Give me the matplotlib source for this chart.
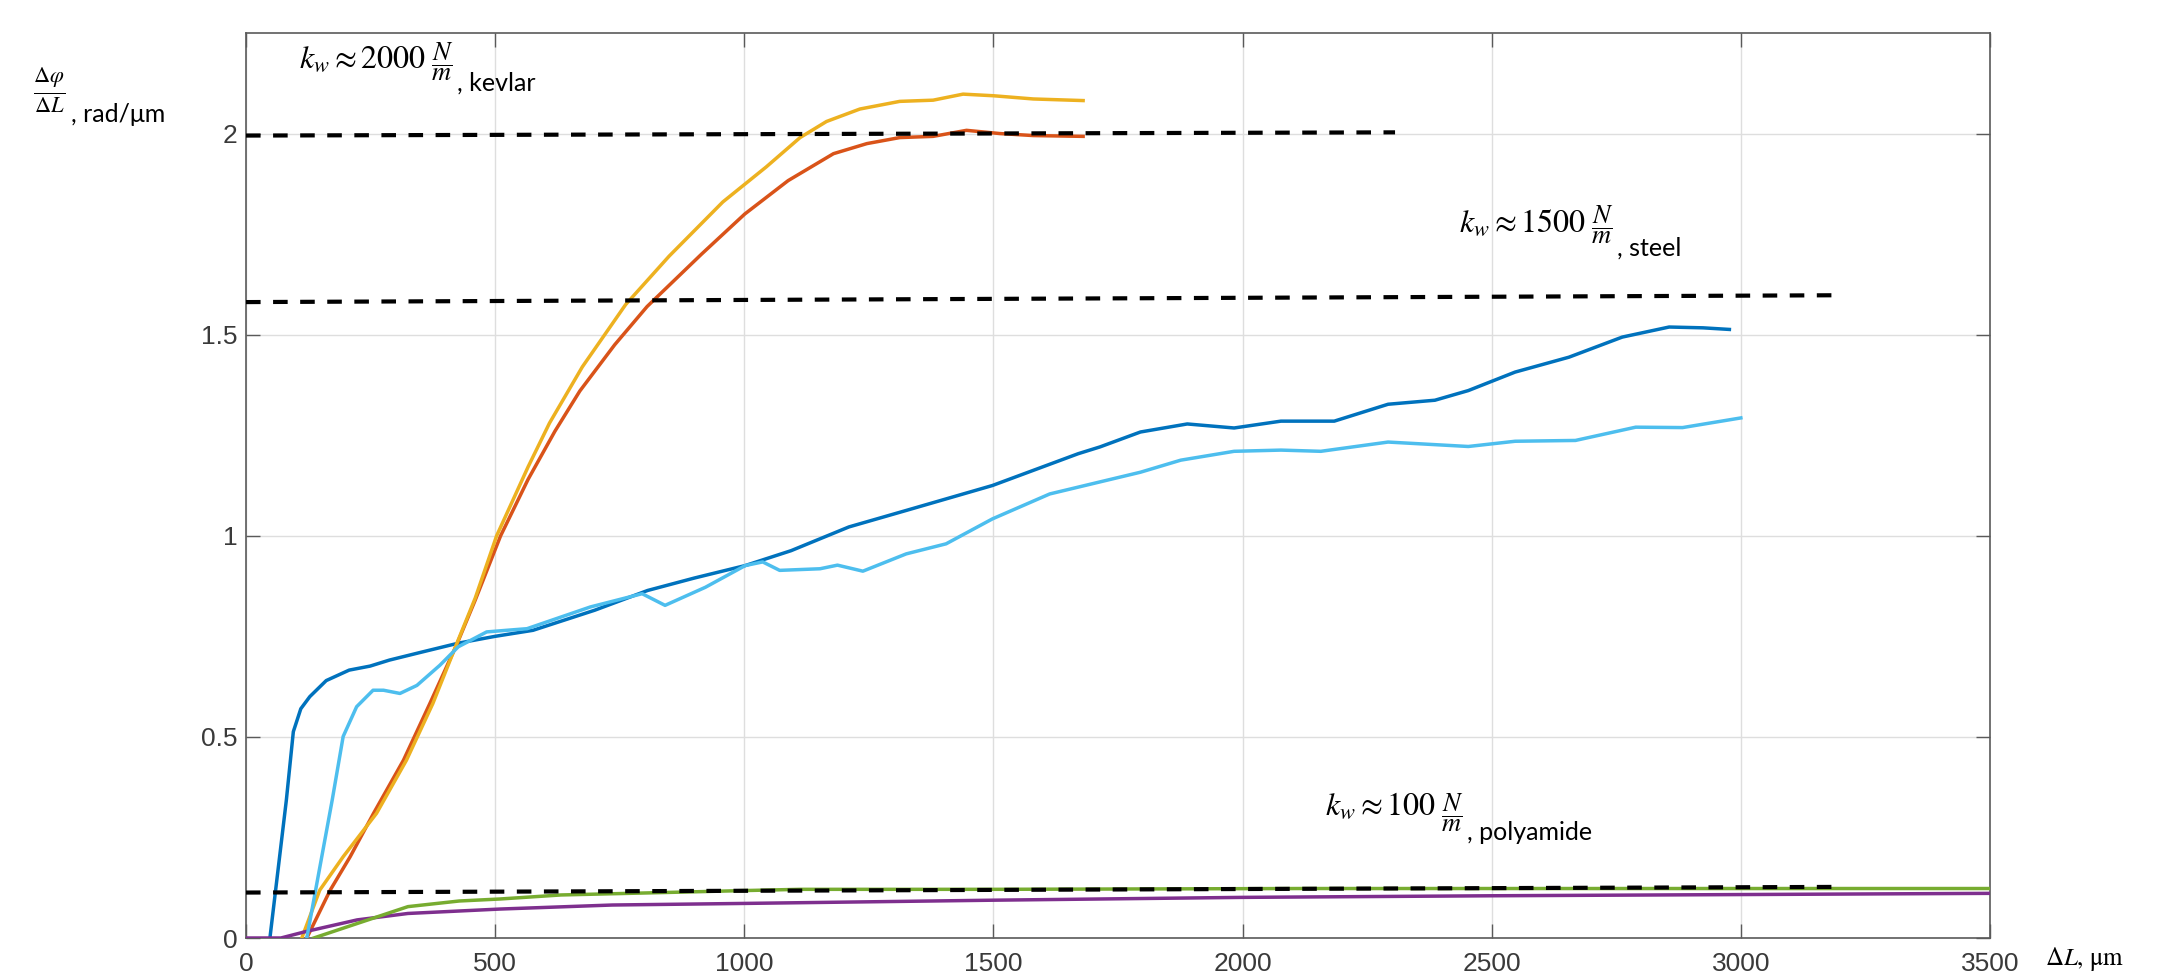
import matplotlib
matplotlib.use('Agg')
import matplotlib.pyplot as plt

# ---------------- data ----------------
x_ticks = [0, 500, 1000, 1500, 2000, 2500, 3000, 3500]
x_tick_labels = ['0', '500', '1000', '1500', '2000', '2500', '3000', '3500']
y_ticks = [0, 0.5, 1.0, 1.5, 2.0]
y_tick_labels = ['0', '0.5', '1', '1.5', '2']

# steel, sample 1 (dark blue)
steel1_x = [48, 81, 95, 110, 128, 161, 207, 249, 288, 350, 426, 500, 576, 700, 806, 900,
            1002, 1094, 1210, 1325, 1498, 1670, 1714, 1795, 1889, 1983, 2077, 2184, 2292,
            2386, 2453, 2547, 2655, 2762, 2856, 2924, 2977]
steel1_y = [0, 0.343, 0.513, 0.57, 0.600, 0.640, 0.666, 0.676, 0.691, 0.71, 0.733, 0.75,
            0.765, 0.815, 0.864, 0.895, 0.926, 0.963, 1.022, 1.063, 1.125, 1.204, 1.221,
            1.258, 1.278, 1.268, 1.285, 1.285, 1.327, 1.337, 1.361, 1.407, 1.444, 1.494,
            1.519, 1.517, 1.513]

# steel, sample 2 (light blue)
steel2_x = [122, 173, 195, 222, 255, 276, 309, 343, 389, 426, 483, 523, 564, 691, 795, 841,
            922, 1002, 1037, 1071, 1152, 1187, 1238, 1325, 1405, 1498, 1613, 1714, 1795,
            1876, 1983, 2077, 2157, 2292, 2453, 2547, 2668, 2789, 2883, 3000]
steel2_y = [0, 0.343, 0.501, 0.575, 0.616, 0.616, 0.608, 0.628, 0.678, 0.724, 0.761, 0.765,
            0.769, 0.823, 0.856, 0.827, 0.872, 0.926, 0.935, 0.914, 0.918, 0.927, 0.912,
            0.955, 0.980, 1.042, 1.104, 1.134, 1.158, 1.188, 1.210, 1.213, 1.210, 1.233,
            1.222, 1.235, 1.237, 1.270, 1.269, 1.293]

# kevlar, sample 1 (orange)
kevlar1_x = [122, 169, 209, 256, 316, 369, 423, 460, 511, 566, 620, 670, 740, 805, 914,
             1001, 1088, 1179, 1246, 1312, 1379, 1446, 1513, 1580, 1680]
kevlar1_y = [0, 0.119, 0.202, 0.31, 0.442, 0.583, 0.73, 0.84, 1.0, 1.14, 1.26, 1.36,
             1.475, 1.57, 1.70, 1.80, 1.883, 1.950, 1.975, 1.990, 1.993, 2.008, 2.0,
             1.995, 1.993]

# kevlar, sample 2 (yellow)
kevlar2_x = [112, 148, 195, 262, 322, 375, 423, 460, 503, 566, 609, 675, 762, 849, 957,
             1044, 1112, 1165, 1232, 1312, 1379, 1439, 1500, 1580, 1680]
kevlar2_y = [0, 0.119, 0.202, 0.31, 0.442, 0.583, 0.732, 0.845, 1.0, 1.171, 1.28, 1.42,
             1.575, 1.695, 1.83, 1.917, 1.99, 2.03, 2.061, 2.080, 2.083, 2.098, 2.094,
             2.086, 2.082]

# polyamide, sample 1 (purple)
poly1_x = [0, 70, 120, 223, 325, 510, 735, 1003, 1500, 2000, 2500, 3000, 3500]
poly1_y = [0, 0, 0.016, 0.045, 0.061, 0.072, 0.082, 0.086, 0.094, 0.101, 0.105, 0.108, 0.111]

# polyamide, sample 2 (green)
poly2_x = [136, 223, 325, 428, 510, 632, 837, 1003, 1112, 1500, 2115, 2463, 3500]
poly2_y = [0, 0.036, 0.078, 0.092, 0.097, 0.107, 0.113, 0.118, 0.121, 0.121, 0.123, 0.123, 0.123]

# theoretical levels (dashed)
kevlar_ref_x = [0, 2306]
kevlar_ref_y = [1.995, 2.003]
steel_ref_x = [0, 3194]
steel_ref_y = [1.581, 1.598]
poly_ref_x = [0, 3188]
poly_ref_y = [0.113, 0.127]

annot_values = ['2000', '1500', '100']
annot_materials = ['kevlar', 'steel', 'polyamide']

# ---------------- figure ----------------
plt.rcParams['mathtext.fontset'] = 'stix'

W, H = 2169, 980
fig = plt.figure(figsize=(W / 100, H / 100), dpi=100)
ax_left, ax_right, ax_top, ax_bottom = 246, 1990, 33, 938
ax = fig.add_axes([ax_left / W, 1 - ax_bottom / H,
                   (ax_right - ax_left) / W, (ax_bottom - ax_top) / H])

lw = 2.5
ax.plot(steel1_x, steel1_y, color='#0072BD', lw=lw, zorder=3)
ax.plot(kevlar1_x, kevlar1_y, color='#D95319', lw=lw, zorder=3)
ax.plot(kevlar2_x, kevlar2_y, color='#EDB120', lw=lw, zorder=3)
ax.plot(poly1_x, poly1_y, color='#7E2F8E', lw=lw, zorder=3)
ax.plot(poly2_x, poly2_y, color='#77AC30', lw=lw, zorder=3)
ax.plot(steel2_x, steel2_y, color='#4DBEEE', lw=lw, zorder=3)

for xs, ys in [(kevlar_ref_x, kevlar_ref_y), (steel_ref_x, steel_ref_y), (poly_ref_x, poly_ref_y)]:
    ax.plot(xs, ys, color='black', lw=3.0, dashes=(3.5, 3.0), zorder=4)

ax.set_xlim(0, 3500)
ax.set_ylim(0, 2.25)
ax.set_xticks(x_ticks)
ax.set_xticklabels(x_tick_labels)
ax.set_yticks(y_ticks)
ax.set_yticklabels(y_tick_labels)

ax.grid(True, color='#dedede', lw=1.0)
ax.set_axisbelow(True)
for sp in ax.spines.values():
    sp.set_color('#5a5a5a')
    sp.set_linewidth(1.2)
ax.tick_params(direction='in', length=10, width=1.0, color='#5a5a5a',
               labelcolor='#3a3a3a', labelsize=19, top=True, right=True)
ax.tick_params(axis='x', pad=10)
ax.tick_params(axis='y', pad=6)
for lab in ax.get_xticklabels() + ax.get_yticklabels():
    lab.set_family(['Liberation Sans', 'DejaVu Sans'])

# ---------------- annotations ----------------
txt_family = ['Lato', 'DejaVu Sans']
renderer = fig.canvas.get_renderer()

# (left px, baseline px, fraction centre px, label baseline px) in figure pixels from top-left
annot_pos = [(299, 68, 61.5, 91), (1459, 232, 225, 256), (1325, 815, 812.5, 840)]

for val, mat, (xl, base, fc, lb) in zip(annot_values, annot_materials, annot_pos):
    t1 = fig.text(xl / W, 1 - base / H, r'$k_w \approx ' + val + '$', fontsize=23,
                  ha='left', va='baseline')
    bb1 = t1.get_window_extent(renderer)
    t2 = fig.text((bb1.x1 + 5) / W, 1 - fc / H, r'$\dfrac{N}{m}$', fontsize=19,
                  ha='left', va='center')
    bb2 = t2.get_window_extent(renderer)
    fig.text((bb2.x1 + 4) / W, 1 - lb / H, ', ' + mat, fontsize=18,
             ha='left', va='baseline', family=txt_family)

# axis labels
fig.text(49 / W, 1 - 90 / H, r'$\frac{\Delta\varphi}{\Delta L}$', fontsize=23,
         ha='center', va='center')
fig.text(71 / W, 1 - 121.7 / H, ', rad/μm', fontsize=18, ha='left', va='baseline',
         family=txt_family)
fig.text(2045 / W, 1 - 965 / H, r'$\Delta L$, μm', fontsize=18, ha='left', va='baseline',
         family='STIXGeneral')

fig.savefig('out.png', dpi=100, facecolor='white')
